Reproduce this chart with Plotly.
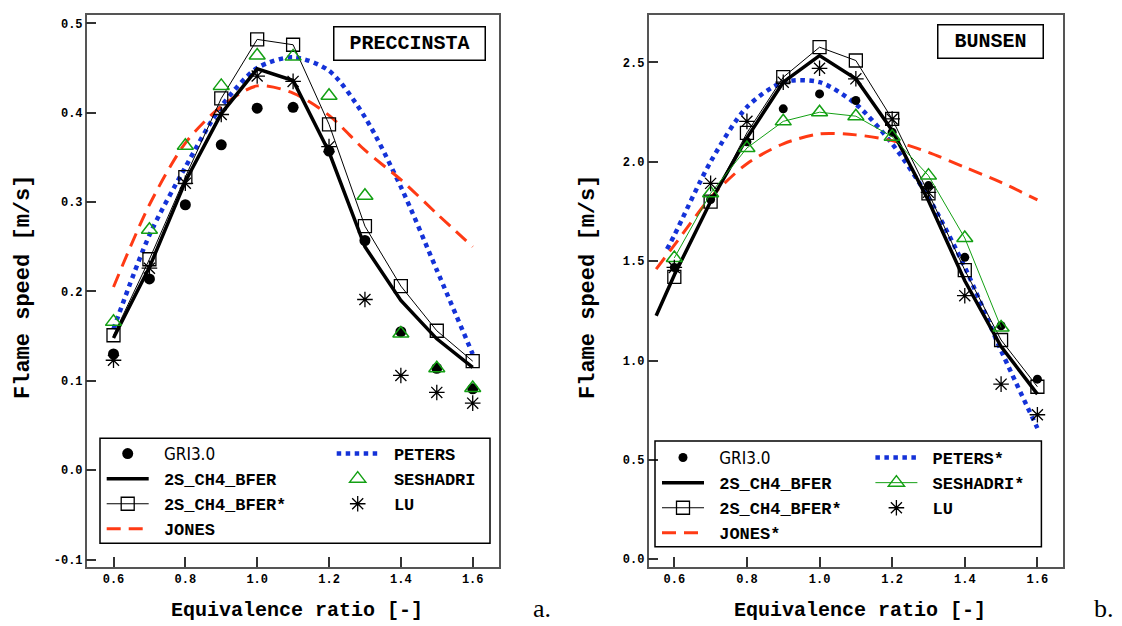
import plotly.graph_objects as go

# ---------------- data ----------------
phi = [0.6, 0.7, 0.8, 0.9, 1.0, 1.1, 1.2, 1.3, 1.4, 1.5, 1.6]

# panel a: PRECCINSTA
a_gri = [0.130, 0.214, 0.297, 0.364, 0.405, 0.406, 0.357, 0.257, 0.155, 0.114, 0.091]
a_bfer = [0.148, 0.227, 0.323, 0.399, 0.449, 0.436, 0.356, 0.250, 0.190, 0.147, 0.115]
a_bfer_star = [0.151, 0.236, 0.328, 0.416, 0.482, 0.476, 0.387, 0.273, 0.206, 0.156, 0.122]
a_jones = [0.205, 0.297, 0.366, 0.407, 0.430, 0.422, 0.397, 0.358, 0.325, 0.287, 0.250]
a_peters = [0.158, 0.263, 0.339, 0.407, 0.450, 0.462, 0.447, 0.395, 0.317, 0.224, 0.130]
a_seshadri = [0.166, 0.269, 0.363, 0.430, 0.464, 0.463, 0.419, 0.307, 0.153, 0.114, 0.092]
a_lu = [0.123, 0.226, 0.321, 0.398, 0.441, 0.435, 0.362, 0.191, 0.106, 0.087, 0.075]

# panel b: BUNSEN
b_gri = [1.468, 1.81, 2.10, 2.266, 2.341, 2.308, 2.148, 1.880, 1.519, 1.175, 0.906]
b_bfer_x = [0.55, 0.6, 0.7, 0.8, 0.9, 1.0, 1.1, 1.2, 1.3, 1.4, 1.5, 1.6]
b_bfer = [1.225, 1.43, 1.80, 2.12, 2.40, 2.534, 2.417, 2.157, 1.804, 1.401, 1.070, 0.831]
b_bfer_star = [1.421, 1.799, 2.145, 2.425, 2.576, 2.509, 2.215, 1.841, 1.455, 1.103, 0.868]
b_jones_x = [0.55, 0.6, 0.7, 0.8, 0.9, 1.0, 1.1, 1.2, 1.3, 1.4, 1.5, 1.6]
b_jones = [1.46, 1.58, 1.82, 1.99, 2.09, 2.140, 2.135, 2.106, 2.047, 1.972, 1.896, 1.808]
b_peters_x = [0.58, 0.6, 0.7, 0.8, 0.9, 1.0, 1.1, 1.2, 1.3, 1.4, 1.5, 1.6]
b_peters = [1.56, 1.63, 2.00, 2.275, 2.40, 2.40, 2.29, 2.09, 1.82, 1.47, 1.05, 0.66]
b_seshadri = [1.516, 1.841, 2.069, 2.203, 2.249, 2.229, 2.126, 1.930, 1.616, 1.166, None]
b_lu = [1.468, 1.891, 2.203, 2.400, 2.470, 2.417, 2.215, 1.846, 1.326, 0.881, 0.727]

x_ticks = [0.6, 0.8, 1.0, 1.2, 1.4, 1.6]
x_ticktext = ["0.6", "0.8", "1.0", "1.2", "1.4", "1.6"]
a_yticks = [-0.1, 0.0, 0.1, 0.2, 0.3, 0.4, 0.5]
a_yticktext = ["-0.1", "0.0", "0.1", "0.2", "0.3", "0.4", "0.5"]
b_yticks = [0.0, 0.5, 1.0, 1.5, 2.0, 2.5]
b_yticktext = ["0.0", "0.5", "1.0", "1.5", "2.0", "2.5"]

# ---------------- style ----------------
MONO = "Liberation Mono, Courier New, monospace"
SERIF = "Liberation Serif, DejaVu Serif, serif"
BLUE = "#1432d8"
RED = "#ff3a14"
GREEN = "#14a014"
GRI_LABEL = ("<span style=\"font-family:'DejaVu Sans',sans-serif;font-stretch:condensed;"
             "font-weight:normal\">GRI3.0</span>")
SP = "\u00a0"

# page offset (browser body margin) compensation
OFF = 8
W, H = 1122 - OFF, 626 - OFF
TOP, BOT = 15, 567  # plot frame in page pixels


def pxx(x):
    return (x - OFF) / W


def pxy(y):
    return (BOT - y) / (BOT - TOP)


fig = go.Figure()


def add_panel(xa, ya, lg1, lg2, gri, bfer_x, bfer, bfer_star, jones_x, jones, peters_x, peters,
              sesh, lu, star_names, dot_size, sesh_line):
    fig.add_trace(go.Scatter(x=peters_x, y=peters, mode="lines", name=SP + star_names[1],
                             line=dict(color=BLUE, width=4.5, dash="dot", shape="spline", smoothing=0.8),
                             xaxis=xa, yaxis=ya, legend=lg2, legendrank=1))
    fig.add_trace(go.Scatter(x=jones_x, y=jones, mode="lines", name=SP + star_names[0],
                             line=dict(color=RED, width=3, dash="14px,8px", shape="spline", smoothing=0.8),
                             xaxis=xa, yaxis=ya, legend=lg1, legendrank=4))
    fig.add_trace(go.Scatter(x=phi, y=bfer_star, mode="lines+markers", name=SP + "2S_CH4_BFER*",
                             line=dict(color="black", width=1),
                             marker=dict(symbol="square-open", size=13, color="black", line=dict(width=1.3)),
                             xaxis=xa, yaxis=ya, legend=lg1, legendrank=3))
    fig.add_trace(go.Scatter(x=bfer_x, y=bfer, mode="lines", name=SP + "2S_CH4_BFER",
                             line=dict(color="black", width=3.5),
                             xaxis=xa, yaxis=ya, legend=lg1, legendrank=2))
    fig.add_trace(go.Scatter(x=phi, y=gri, mode="markers", name=SP + GRI_LABEL,
                             marker=dict(symbol="circle", size=dot_size, color="black"),
                             xaxis=xa, yaxis=ya, legend=lg1, legendrank=1))
    fig.add_trace(go.Scatter(x=phi, y=sesh, mode="lines+markers" if sesh_line else "markers",
                             name=SP + star_names[2],
                             line=dict(color=GREEN, width=1),
                             marker=dict(symbol="triangle-up-open", size=14, color=GREEN, line=dict(width=1.5)),
                             xaxis=xa, yaxis=ya, legend=lg2, legendrank=2))
    fig.add_trace(go.Scatter(x=phi, y=lu, mode="markers", name=SP + "LU",
                             marker=dict(symbol="asterisk-open", size=13, color="black",
                                         line=dict(width=1.3, color="black")),
                             xaxis=xa, yaxis=ya, legend=lg2, legendrank=3))


add_panel("x", "y", "legend", "legend2", a_gri, phi, a_bfer, a_bfer_star, phi, a_jones, phi, a_peters,
          a_seshadri, a_lu, ["JONES", "PETERS", "SESHADRI"], 11, False)
add_panel("x2", "y2", "legend3", "legend4", b_gri, b_bfer_x, b_bfer, b_bfer_star, b_jones_x, b_jones,
          b_peters_x, b_peters, b_seshadri, b_lu, ["JONES*", "PETERS*", "SESHADRI*"], 9, True)

axis_common = dict(showline=True, mirror=True, linecolor="#555555", linewidth=1.5,
                   ticks="inside", ticklen=10, tickwidth=1.5, tickcolor="#333333",
                   showgrid=False, zeroline=False,
                   tickfont=dict(family=MONO, size=12, color="black", weight="bold"))

legend_common = dict(orientation="v", yanchor="top", xanchor="left", bgcolor="rgba(0,0,0,0)",
                     borderwidth=0, itemwidth=42, traceorder="normal",
                     font=dict(family=MONO, size=17, color="black", weight="bold"))

fig.update_layout(
    width=W, height=H,
    margin=dict(l=0, r=0, t=TOP - OFF, b=H - (BOT - OFF)),
    paper_bgcolor="white", plot_bgcolor="white",
    showlegend=True,
    xaxis=dict(domain=[pxx(86.7), pxx(499)], range=[0.5254, 1.6732], tickvals=x_ticks,
               ticktext=x_ticktext, anchor="y", **axis_common),
    yaxis=dict(domain=[0, 1], range=[-0.1083, 0.5093], tickvals=a_yticks, ticktext=a_yticktext,
               anchor="x", **axis_common),
    xaxis2=dict(domain=[pxx(648.5), pxx(1063)], range=[0.5289, 1.6705], tickvals=x_ticks,
                ticktext=x_ticktext, anchor="y2", **axis_common),
    yaxis2=dict(domain=[0, 1], range=[-0.0388, 2.738], tickvals=b_yticks, ticktext=b_yticktext,
                anchor="x2", **axis_common),
    legend=dict(x=pxx(101.7), y=pxy(436), **legend_common),
    legend2=dict(x=pxx(331.7), y=pxy(436), **legend_common),
    legend3=dict(x=pxx(657), y=pxy(440), **legend_common),
    legend4=dict(x=pxx(870.4), y=pxy(440), **legend_common),
    shapes=[
        dict(type="rect", xref="paper", yref="paper", x0=pxx(100), x1=pxx(490),
             y0=pxy(543.3), y1=pxy(438.3), line=dict(color="black", width=1.5)),
        dict(type="rect", xref="paper", yref="paper", x0=pxx(655), x1=pxx(1041.4),
             y0=pxy(546.7), y1=pxy(441), line=dict(color="black", width=1.5)),
    ],
)

title_font = dict(family=MONO, size=20, color="black", weight="bold")
ann = [
    dict(text="Equivalence ratio [-]", x=pxx(297), y=pxy(610), font=title_font),
    dict(text="Equivalence ratio [-]", x=pxx(860.4), y=pxy(610), font=title_font),
    dict(text="Flame speed [m/s]", x=pxx(23), y=pxy(287), textangle=-90,
         font=dict(family=MONO, size=22, color="black", weight="bold")),
    dict(text="Flame speed [m/s]", x=pxx(588), y=pxy(287), textangle=-90,
         font=dict(family=MONO, size=22, color="black", weight="bold")),
    dict(text="PRECCINSTA", x=pxx(409), y=pxy(43), width=148, height=30, borderpad=1,
         bordercolor="black", borderwidth=1.5, bgcolor="white", font=title_font),
    dict(text="BUNSEN", x=pxx(990.2), y=pxy(41.7), width=102, height=30, borderpad=1,
         bordercolor="black", borderwidth=1.5, bgcolor="white", font=title_font),
    dict(text="a.", x=pxx(542), y=pxy(608), borderpad=0,
         font=dict(family=SERIF, size=26, color="black")),
    dict(text="b.", x=pxx(1104), y=pxy(608), borderpad=0,
         font=dict(family=SERIF, size=26, color="black")),
]
for a in ann:
    a.update(xref="paper", yref="paper", showarrow=False, xanchor="center", yanchor="middle")
fig.update_layout(annotations=ann)

fig.write_html("out.html")
